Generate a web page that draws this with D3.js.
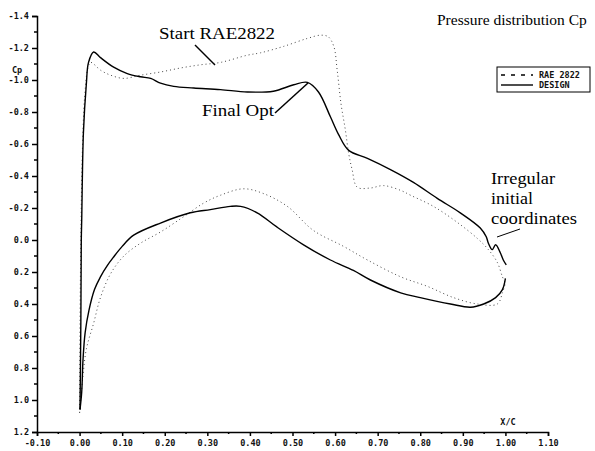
<!DOCTYPE html>
<html>
<head>
<meta charset="utf-8">
<script src="https://cdn.jsdelivr.net/npm/d3@7"></script>
<style>
  body { margin: 0; background: #fff; }
  .tick text, .lbl { font-family: "DejaVu Sans Mono", monospace; font-weight: bold; font-size: 8.5px; fill: #111; }
  .note { font-family: "Liberation Serif", "Times New Roman", serif; font-size: 17px; fill: #000; }
</style>
</head>
<body>
<svg id="chart"></svg>
<script>
// axis ticks
var xTicks = [-0.10, 0.00, 0.10, 0.20, 0.30, 0.40, 0.50, 0.60, 0.70, 0.80, 0.90, 1.00, 1.10];
var yTicks = [-1.4, -1.2, -1.0, -0.8, -0.6, -0.4, -0.2, 0.0, 0.2, 0.4, 0.6, 0.8, 1.0, 1.2];

// series: [x/c, Cp]
var designUpper = [
  [0.001, 1.06], [0.003, 0.5], [0.004, 0.0], [0.005, -0.125], [0.009, -0.67], [0.016, -0.98],
  [0.021, -1.11], [0.033, -1.175], [0.049, -1.14], [0.08, -1.08], [0.112, -1.04], [0.143, -1.02],
  [0.167, -1.01], [0.19, -0.98], [0.221, -0.96], [0.268, -0.95], [0.331, -0.94], [0.394, -0.925],
  [0.455, -0.93], [0.503, -0.97], [0.535, -0.985], [0.561, -0.925], [0.589, -0.77], [0.608, -0.66],
  [0.632, -0.56], [0.676, -0.51], [0.73, -0.44], [0.784, -0.36], [0.84, -0.26], [0.894, -0.17],
  [0.941, -0.075], [0.955, -0.02], [0.960, 0.02], [0.969, 0.06], [0.977, 0.03], [0.988, 0.08],
  [0.995, 0.125], [1.002, 0.156]
];
var designLower = [
  [0.001, 1.06], [0.005, 0.95], [0.008, 0.75], [0.013, 0.58], [0.022, 0.44], [0.035, 0.31],
  [0.049, 0.23], [0.065, 0.16], [0.08, 0.106], [0.10, 0.04], [0.127, -0.03], [0.19, -0.106],
  [0.26, -0.17], [0.307, -0.19], [0.354, -0.21], [0.378, -0.21], [0.417, -0.17], [0.464, -0.08],
  [0.526, 0.03], [0.589, 0.125], [0.643, 0.19], [0.683, 0.25], [0.754, 0.33], [0.80, 0.36],
  [0.871, 0.40], [0.918, 0.42], [0.949, 0.40], [0.977, 0.36], [0.993, 0.31], [1.0, 0.24]
];
var raeUpper = [
  [0.0, 1.08], [0.001, 0.5], [0.003, 0.0], [0.006, -0.5], [0.012, -0.9], [0.02, -1.08],
  [0.026, -1.11], [0.05, -1.06], [0.073, -1.03], [0.104, -1.01], [0.143, -1.03], [0.19, -1.05],
  [0.237, -1.075], [0.284, -1.095], [0.331, -1.11], [0.394, -1.155], [0.425, -1.17], [0.479, -1.21],
  [0.535, -1.26], [0.566, -1.28], [0.584, -1.27], [0.597, -1.21], [0.605, -1.06], [0.614, -0.85],
  [0.624, -0.69], [0.632, -0.54], [0.64, -0.44], [0.652, -0.33], [0.683, -0.325], [0.714, -0.34],
  [0.754, -0.31], [0.777, -0.28], [0.831, -0.21], [0.887, -0.11], [0.934, -0.01], [0.96, 0.06],
  [0.981, 0.14], [0.993, 0.23], [1.0, 0.27]
];
var raeLower = [
  [0.0, 1.08], [0.008, 0.85], [0.016, 0.68], [0.033, 0.52], [0.049, 0.36], [0.073, 0.21],
  [0.104, 0.10], [0.143, 0.02], [0.19, -0.05], [0.244, -0.145], [0.291, -0.23], [0.331, -0.28],
  [0.385, -0.32], [0.432, -0.29], [0.488, -0.21], [0.549, -0.06], [0.62, 0.04], [0.676, 0.125],
  [0.754, 0.23], [0.817, 0.29], [0.878, 0.36], [0.934, 0.40], [0.981, 0.40], [0.993, 0.33],
  [1.0, 0.27]
];
var legendNames = ["RAE 2822", "DESIGN"];
var noteLines = ["Irregular", "initial", "coordinates"];

var W = 595, H = 451;
var svg = d3.select("#chart").attr("width", W).attr("height", H);

// scales (Cp axis inverted: negative up)
var x = d3.scaleLinear().domain([-0.10, 1.10]).range([37, 548]);
var y = d3.scaleLinear().domain([-1.4, 1.2]).range([16, 432]);

// x axis
var xAxis = svg.append("g")
  .attr("transform", "translate(0," + y(1.2) + ")")
  .call(d3.axisBottom(x).tickValues(xTicks).tickSize(4).tickPadding(4)
    .tickFormat(function(d) { return d3.format(".2f")(d).replace("−", "-"); }));
xAxis.select(".domain").attr("stroke-width", 1.5);
xAxis.selectAll(".tick line").attr("stroke-width", 1.5);

// minor x ticks
svg.append("g").selectAll("line")
  .data(d3.range(-0.05, 1.10, 0.10))
  .enter().append("line")
  .attr("x1", function(d) { return x(d); }).attr("x2", function(d) { return x(d); })
  .attr("y1", y(1.2)).attr("y2", y(1.2) + 2)
  .attr("stroke", "#000").attr("stroke-width", 1.5);

// y axis
var yAxis = svg.append("g")
  .attr("transform", "translate(" + x(-0.10) + ",0)")
  .call(d3.axisLeft(y).tickValues(yTicks).tickSize(5).tickPadding(3)
    .tickFormat(function(d) { return d3.format(".1f")(d).replace("−", "-"); }));
yAxis.select(".domain").attr("stroke-width", 1.5);
yAxis.selectAll(".tick line").attr("stroke-width", 1.5);

// minor y ticks
svg.append("g").selectAll("line")
  .data(d3.range(-1.3, 1.2, 0.2))
  .enter().append("line")
  .attr("x1", x(-0.10) - 3).attr("x2", x(-0.10))
  .attr("y1", function(d) { return y(d); }).attr("y2", function(d) { return y(d); })
  .attr("stroke", "#000").attr("stroke-width", 1.5);

svg.append("text").attr("class", "lbl").attr("x", 12).attr("y", 73).text("Cp");
svg.append("text").attr("class", "lbl").attr("x", 508).attr("y", 425).attr("text-anchor", "middle").text("X/C");

// curves
var line = d3.line()
  .x(function(d) { return x(d[0]); })
  .y(function(d) { return y(d[1]); })
  .curve(d3.curveCatmullRom.alpha(0.5));

[raeUpper, raeLower].forEach(function(s) {
  svg.append("path").datum(s).attr("d", line)
    .attr("fill", "none").attr("stroke", "#444").attr("stroke-width", 1)
    .attr("stroke-dasharray", "1,3");
});
[designUpper, designLower].forEach(function(s) {
  svg.append("path").datum(s).attr("d", line)
    .attr("fill", "none").attr("stroke", "#000").attr("stroke-width", 1.4);
});

// legend
var lg = svg.append("g");
lg.append("rect").attr("x", 497).attr("y", 67).attr("width", 93).attr("height", 25)
  .attr("fill", "#fff").attr("stroke", "#000").attr("stroke-width", 1);
lg.append("line").attr("x1", 501).attr("x2", 533).attr("y1", 75).attr("y2", 75)
  .attr("stroke", "#000").attr("stroke-width", 1.4).attr("stroke-dasharray", "4,6");
lg.append("line").attr("x1", 501).attr("x2", 533).attr("y1", 85).attr("y2", 85)
  .attr("stroke", "#000").attr("stroke-width", 1.4);
lg.selectAll("text").data(legendNames).enter().append("text")
  .attr("class", "lbl").attr("x", 539).attr("y", function(d, i) { return 78 + i * 10; })
  .text(function(d) { return d; });

// title and notes
svg.append("text").attr("class", "note").attr("x", 437).attr("y", 25)
  .style("font-size", "15.5px").text("Pressure distribution Cp");
svg.append("text").attr("class", "note").attr("x", 159).attr("y", 39)
  .attr("textLength", 116).attr("lengthAdjust", "spacingAndGlyphs").text("Start RAE2822");
svg.append("line").attr("x1", 195).attr("y1", 45).attr("x2", 215).attr("y2", 65)
  .attr("stroke", "#000").attr("stroke-width", 1.5);
svg.append("text").attr("class", "note").attr("x", 202).attr("y", 116)
  .attr("textLength", 72).attr("lengthAdjust", "spacingAndGlyphs").text("Final Opt");
svg.append("line").attr("x1", 275).attr("y1", 113).attr("x2", 308).attr("y2", 83)
  .attr("stroke", "#000").attr("stroke-width", 1.5);
var noteWidths = [64, 42, 86];
noteLines.forEach(function(t, i) {
  svg.append("text").attr("class", "note").attr("x", 491).attr("y", 184 + i * 20)
    .attr("textLength", noteWidths[i]).attr("lengthAdjust", "spacingAndGlyphs").text(t);
});
svg.append("line").attr("x1", 497).attr("y1", 237).attr("x2", 520).attr("y2", 229)
  .attr("stroke", "#000").attr("stroke-width", 1);
</script>
</body>
</html>
